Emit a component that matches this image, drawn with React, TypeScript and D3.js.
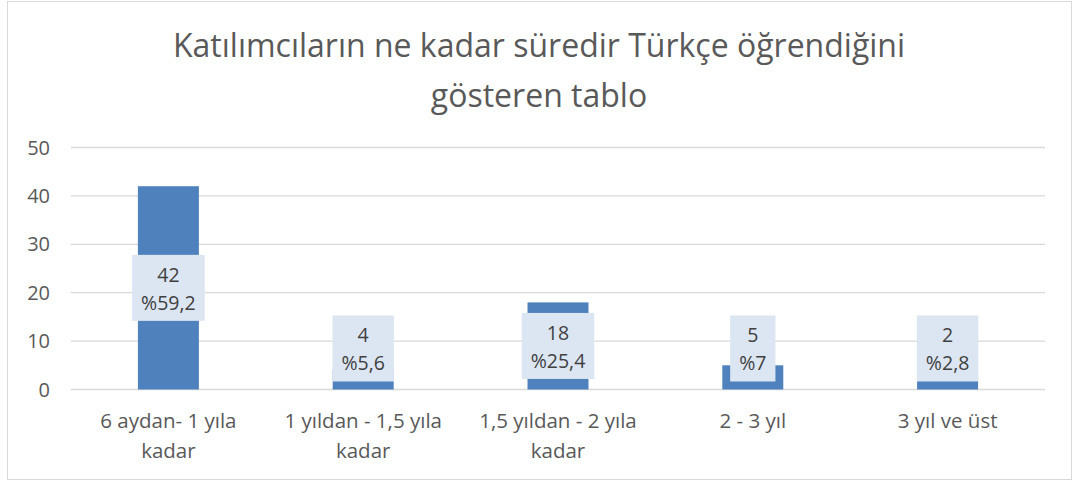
import React from "react";
import * as d3 from "d3";

const categories = [
  ["6 aydan- 1 yıla", "kadar"],
  ["1 yıldan - 1,5 yıla", "kadar"],
  ["1,5 yıldan - 2 yıla", "kadar"],
  ["2 - 3 yıl"],
  ["3 yıl ve üst"],
];
const values = [42, 4, 18, 5, 2];
const percents = ["%59,2", "%5,6", "%25,4", "%7", "%2,8"];
const yTicks = [0, 10, 20, 30, 40, 50];
const titleLines = ["Katılımcıların ne kadar süredir Türkçe öğrendiğini", "gösteren tablo"];

const W = 1073;
const H = 482;
const FONT = "'Open Sans', sans-serif";

let canvas: HTMLCanvasElement | null = null;
function measure(text: string, size: number) {
  if (!canvas) canvas = document.createElement("canvas");
  const ctx = canvas.getContext("2d")!;
  ctx.font = `${size}px ${FONT}`;
  return ctx.measureText(text).width;
}

export default function App() {
  const x = d3
    .scaleBand<number>()
    .domain(d3.range(values.length))
    .range([71, 1045])
    .paddingInner(0.687)
    .paddingOuter(0.3435);
  const y = d3.scaleLinear().domain([0, 50]).range([389.5, 147.5]);
  const bw = x.bandwidth();
  const labelSize = 19.5;
  const boxH = 66;

  return (
    <svg
      width={W}
      height={H}
      style={{ position: "absolute", left: 0, top: 0, background: "#fff" }}
      fontFamily={FONT}
    >
      <rect x={7.5} y={1.5} width={1064} height={478} fill="#fff" stroke="#d9d9d9" />
      {titleLines.map((t, i) => (
        <text
          key={i}
          x={539}
          y={57 + i * 50}
          textAnchor="middle"
          fontSize={32}
          fill="#595959"
          fontWeight={400}
        >
          {t}
        </text>
      ))}
      {yTicks.map((t) => (
        <g key={t}>
          <line x1={71} x2={1045} y1={y(t)} y2={y(t)} stroke="#d9d9d9" strokeWidth={1.3} />
          <text x={50} y={y(t)} dy="0.35em" textAnchor="end" fontSize={20} fill="#595959">
            {t}
          </text>
        </g>
      ))}
      {values.map((v, i) => (
        <rect key={i} x={x(i)!} y={y(v)} width={bw} height={y(0) - y(v)} fill="#4f81bd" />
      ))}
      {values.map((v, i) => {
        const cx = x(i)! + bw / 2;
        const cy = Math.min(y(v / 2), y(0) - 8 - boxH / 2);
        const lines = [String(v), percents[i]];
        const tw = Math.max(...lines.map((l) => measure(l, labelSize)));
        const bwid = tw + 18;
        return (
          <g key={i}>
            <rect x={cx - bwid / 2} y={cy - boxH / 2} width={bwid} height={boxH} fill="#dce6f2" />
            {lines.map((l, j) => (
              <text
                key={j}
                x={cx}
                y={cy + (j === 0 ? -13 : 15)}
                dy="0.35em"
                textAnchor="middle"
                fontSize={labelSize}
                fill="#404040"
              >
                {l}
              </text>
            ))}
          </g>
        );
      })}
      {categories.map((c, i) => (
        <g key={i}>
          {c.map((l, j) => (
            <text
              key={j}
              x={x(i)! + bw / 2}
              y={421 + j * 30}
              dy="0.35em"
              textAnchor="middle"
              fontSize={20.5}
              fill="#595959"
            >
              {l}
            </text>
          ))}
        </g>
      ))}
    </svg>
  );
}
